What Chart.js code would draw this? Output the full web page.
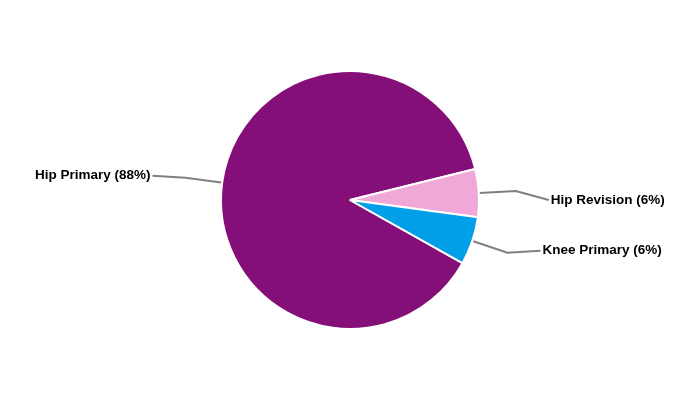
<!DOCTYPE html>
<html lang="en">
<head>
<meta charset="UTF-8">
<title>Procedure mix</title>
<script src="https://cdn.jsdelivr.net/npm/chart.js"></script>
<style>
  html, body { margin: 0; padding: 0; background: #fff; }
  #wrap { width: 700px; height: 400px; }
</style>
</head>
<body>
<div id="wrap"><canvas id="grafico"></canvas></div>
<script>
const categorias = ["Hip Primary", "Hip Revision", "Knee Primary"];
const porcentajes = [88, 6, 6];
const colores = ["#850F78", "#F0A8D8", "#009FE8"];
// small vertical nudge of each outside label (px)
const desplazamiento = [-2, 9, -2];

const etiquetasFuera = {
  id: "etiquetasFuera",
  afterDatasetsDraw(chart) {
    const ctx = chart.ctx;
    const arcs = chart.getDatasetMeta(0).data;
    ctx.save();
    ctx.font = "bold 13.5px 'Liberation Sans', Arial, sans-serif";
    ctx.textBaseline = "middle";
    ctx.strokeStyle = "#808080";
    ctx.lineWidth = 2;
    ctx.fillStyle = "#000";
    arcs.forEach((arc, i) => {
      const p = arc.getProps(["x", "y", "startAngle", "endAngle", "outerRadius"], true);
      const mid = (p.startAngle + p.endAngle) / 2;
      const cos = Math.cos(mid), sin = Math.sin(mid);
      const x0 = p.x + cos * (p.outerRadius + 1);
      const y0 = p.y + sin * (p.outerRadius + 1);
      const x1 = p.x + cos * (p.outerRadius + 37);
      const y1 = p.y + sin * (p.outerRadius + 37);
      const lado = cos >= 0 ? 1 : -1;
      const x2 = x1 + lado * 33;
      const y2 = y1 + desplazamiento[i];
      ctx.beginPath();
      ctx.moveTo(x0, y0);
      ctx.lineTo(x1, y1);
      ctx.lineTo(x2, y2);
      ctx.stroke();
      ctx.textAlign = lado > 0 ? "left" : "right";
      ctx.fillText(categorias[i] + " (" + porcentajes[i] + "%)", x2 + lado * 2, y2);
    });
    ctx.restore();
  }
};

new Chart(document.getElementById("grafico"), {
  type: "pie",
  data: {
    labels: categorias,
    datasets: [{
      data: porcentajes,
      backgroundColor: colores,
      borderColor: "#fff",
      borderWidth: 2
    }]
  },
  options: {
    responsive: true,
    maintainAspectRatio: false,
    animation: false,
    rotation: 119.3,
    layout: { padding: 70 },
    plugins: {
      legend: { display: false },
      tooltip: { enabled: false }
    }
  },
  plugins: [etiquetasFuera]
});
</script>
</body>
</html>
